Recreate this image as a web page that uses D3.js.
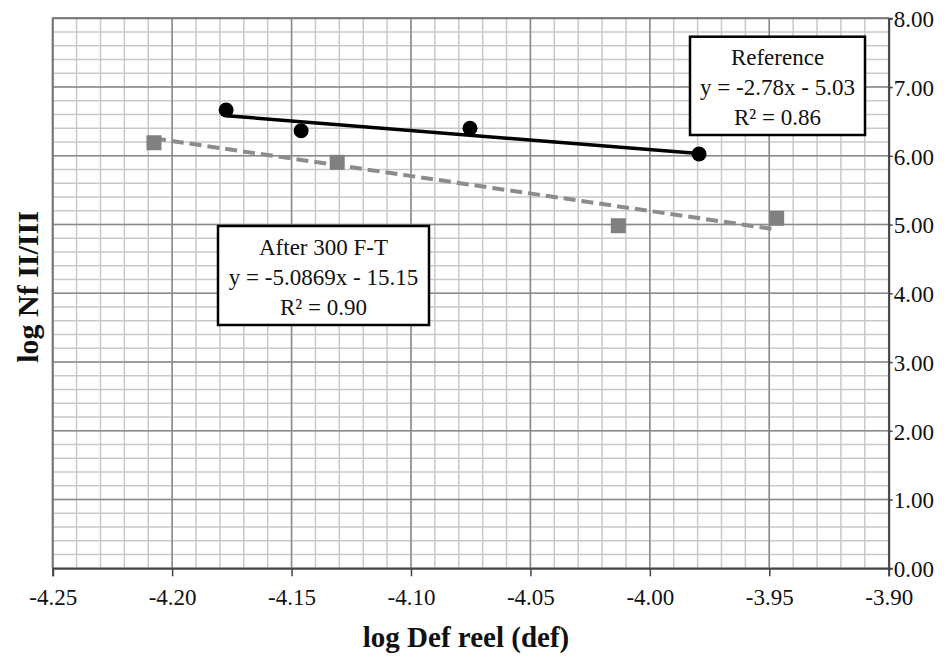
<!DOCTYPE html>
<html>
<head>
<meta charset="utf-8">
<script src="https://cdn.jsdelivr.net/npm/d3@7"></script>
<style>
  html, body { margin: 0; padding: 0; background: #fff; }
  svg { display: block; }
  text { font-family: "Liberation Serif", "Times New Roman", serif; fill: #111; }
</style>
</head>
<body>
<svg id="chart" width="945" height="657"></svg>
<script>
// Reference specimens (black circles)
const refX = [-4.1774, -4.1460, -4.0753, -3.9794];
const refY = [6.666, 6.365, 6.400, 6.026];
// Specimens after 300 freeze-thaw cycles (grey squares)
const ftX = [-4.2076, -4.1309, -4.0132, -3.9469];
const ftY = [6.190, 5.905, 4.983, 5.091];

// Linear fits printed in the boxes: y = slope * x + intercept
const refFit = { slope: -2.78, intercept: -5.03 };
const ftFit = { slope: -5.0869, intercept: -15.15 };

const refLabel = ["Reference", "y = -2.78x - 5.03", "R\u00B2 = 0.86"];
const ftLabel = ["After 300 F-T", "y = -5.0869x - 15.15", "R\u00B2 = 0.90"];

const xTicks = [-4.25, -4.20, -4.15, -4.10, -4.05, -4.00, -3.95, -3.90];
const yTicks = [0, 1, 2, 3, 4, 5, 6, 7, 8];
const xTitle = "log Def reel (def)";
const yTitle = "log Nf II/III";

const serif = "'Liberation Serif', 'Times New Roman', serif";
const svg = d3.select("#chart");
const plot = { left: 52.7, right: 888.7, top: 18.3, bottom: 568.3 };

const x = d3.scaleLinear().domain([-4.25, -3.90]).range([plot.left, plot.right]);
const y = d3.scaleLinear().domain([0, 8]).range([plot.bottom, plot.top]);

// Minor grid: every 0.01 in x, every 0.2 in y
const minorX = d3.range(0, 36).map(i => -4.25 + i * 0.01);
const minorY = d3.range(0, 41).map(i => i * 0.2);
const grid = svg.append("g");
grid.selectAll("line.mx").data(minorX).join("line")
  .attr("x1", d => x(d)).attr("x2", d => x(d))
  .attr("y1", plot.top).attr("y2", plot.bottom)
  .attr("stroke", "#c9c9c9").attr("stroke-width", 1.5);
grid.selectAll("line.my").data(minorY).join("line")
  .attr("x1", plot.left).attr("x2", plot.right)
  .attr("y1", d => y(d)).attr("y2", d => y(d))
  .attr("stroke", "#c9c9c9").attr("stroke-width", 1.5);
// Major grid
grid.selectAll("line.Mx").data(xTicks).join("line")
  .attr("x1", d => x(d)).attr("x2", d => x(d))
  .attr("y1", plot.top).attr("y2", plot.bottom)
  .attr("stroke", "#8a8a8a").attr("stroke-width", 1.5);
grid.selectAll("line.My").data(yTicks).join("line")
  .attr("x1", plot.left).attr("x2", plot.right)
  .attr("y1", d => y(d)).attr("y2", d => y(d))
  .attr("stroke", "#8a8a8a").attr("stroke-width", 1.5);
// Frame (left and top)
svg.append("path")
  .attr("d", `M${plot.left},${plot.bottom}V${plot.top}H${plot.right}`)
  .attr("fill", "none").attr("stroke", "#777").attr("stroke-width", 2);

// Axes
const fmt = d => d3.format(".2f")(d).replace("\u2212", "-");
const xAxis = d3.axisBottom(x).tickValues(xTicks).tickFormat(fmt).tickSize(8).tickPadding(12);
const gx = svg.append("g").attr("transform", `translate(0,${plot.bottom})`).call(xAxis)
  .attr("font-family", serif).attr("font-size", 23);
gx.select(".domain").attr("stroke", "#444").attr("stroke-width", 2);
gx.selectAll(".tick line").attr("stroke", "#444").attr("stroke-width", 1.5);
gx.selectAll(".tick text").attr("fill", "#111");

const yAxis = d3.axisRight(y).tickValues(yTicks).tickFormat(fmt).tickSize(4).tickPadding(1);
const gy = svg.append("g").attr("transform", `translate(${plot.right},0)`).call(yAxis)
  .attr("font-family", serif).attr("font-size", 23);
gy.select(".domain").attr("stroke", "#444").attr("stroke-width", 2);
gy.selectAll(".tick line").attr("stroke", "#444").attr("stroke-width", 1.5);
gy.selectAll(".tick text").attr("fill", "#111").attr("dy", "0.36em");

// Trend lines from the fitted equations, spanning each series
const fitLine = (fit, xs) => {
  const [a, b] = d3.extent(xs);
  return [[a, fit.slope * a + fit.intercept], [b, fit.slope * b + fit.intercept]];
};
const line = d3.line().x(d => x(d[0])).y(d => y(d[1]));

svg.append("path").datum(fitLine(ftFit, ftX)).attr("d", line)
  .attr("fill", "none").attr("stroke", "#8c8c8c").attr("stroke-width", 4)
  .attr("stroke-dasharray", "12,6");
svg.append("path").datum(fitLine(refFit, refX)).attr("d", line)
  .attr("fill", "none").attr("stroke", "#000").attr("stroke-width", 3.5);

// Points
const sq = 15;
svg.append("g").selectAll("rect").data(ftX.map((v, i) => [v, ftY[i]])).join("rect")
  .attr("x", d => x(d[0]) - sq / 2).attr("y", d => y(d[1]) - sq / 2)
  .attr("width", sq).attr("height", sq).attr("fill", "#808080");
svg.append("g").selectAll("circle").data(refX.map((v, i) => [v, refY[i]])).join("circle")
  .attr("cx", d => x(d[0])).attr("cy", d => y(d[1])).attr("r", 7.5).attr("fill", "#000");

// Equation boxes
function eqBox(lines, x0, y0, w, h) {
  const g = svg.append("g");
  g.append("rect").attr("x", x0).attr("y", y0).attr("width", w).attr("height", h)
    .attr("fill", "#fff").attr("stroke", "#000").attr("stroke-width", 2.5);
  g.selectAll("text").data(lines).join("text")
    .attr("x", x0 + w / 2).attr("y", (d, i) => y0 + 28.5 + i * 30)
    .attr("text-anchor", "middle").style("font-size", "23px").text(d => d);
}
eqBox(refLabel, 690, 36.7, 175, 98.3);
eqBox(ftLabel, 218, 226, 211, 99);

// Axis titles
svg.append("text").attr("x", 466).attr("y", 647).attr("text-anchor", "middle")
  .style("font-size", "29px").style("font-weight", "bold").text(xTitle);
svg.append("text").attr("transform", "translate(38,287) rotate(-90)").attr("text-anchor", "middle")
  .style("font-size", "30px").style("font-weight", "bold").text(yTitle);
</script>
</body>
</html>
